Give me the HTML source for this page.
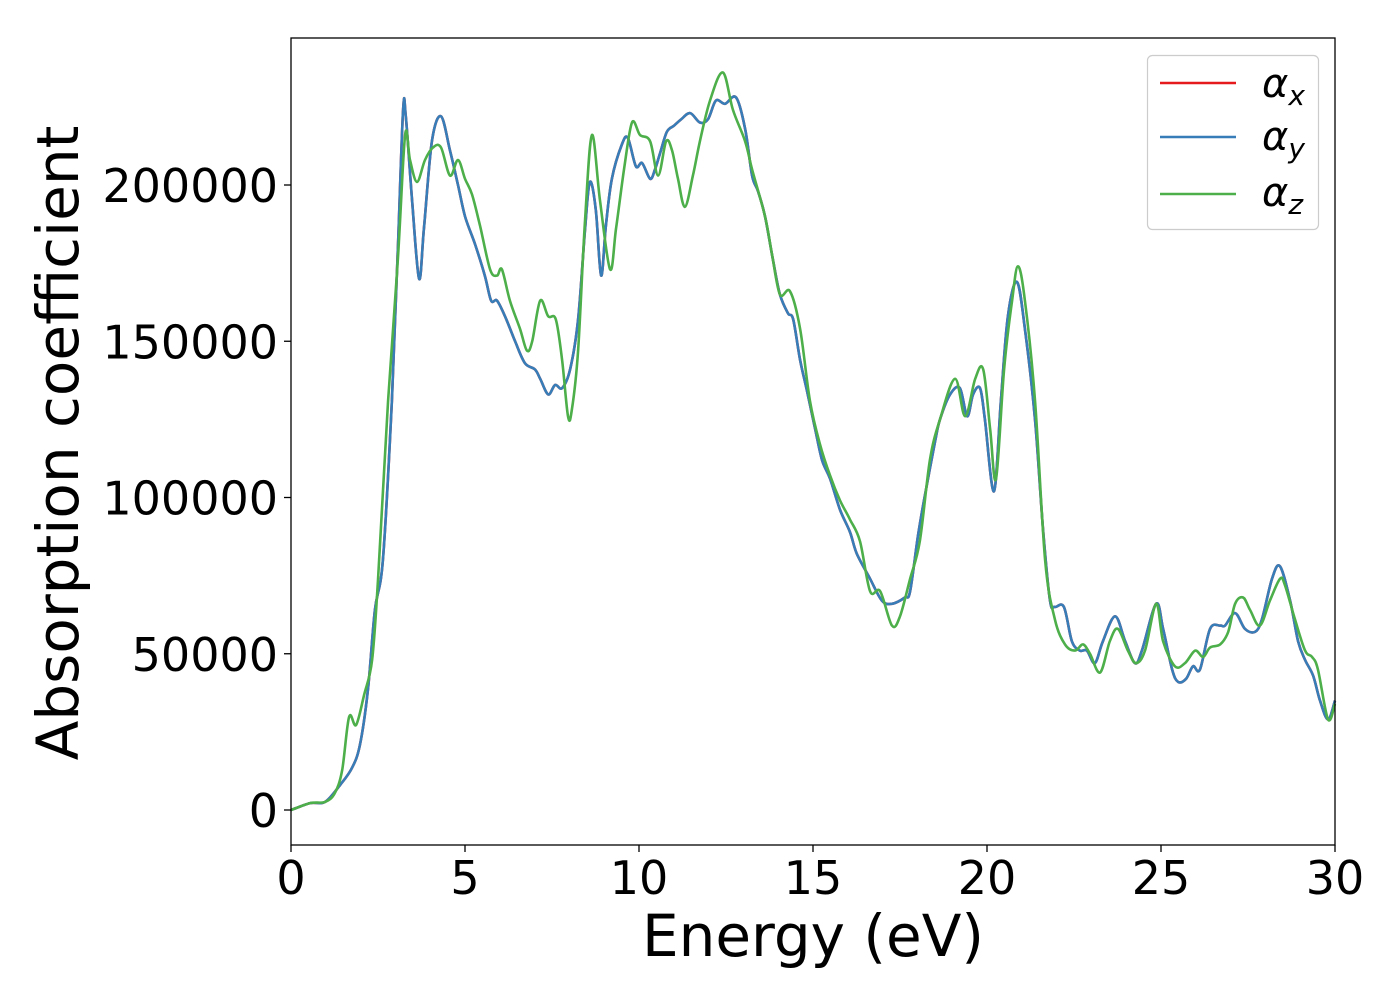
<!DOCTYPE html>
<html><head><meta charset="utf-8"><style>
html,body{margin:0;padding:0;background:#fff;}
svg text{font-family:"DejaVu Sans","Liberation Sans",sans-serif;fill:#000;}
</style></head><body>
<svg id="chart" width="1400" height="1000" xmlns="http://www.w3.org/2000/svg">
<rect x="291" y="38" width="1044" height="807" fill="#fff"/>
<g id="curves"></g>
<rect x="291" y="38" width="1044" height="807" fill="none" stroke="#000" stroke-width="1.3"/>
<g id="xticks"></g>
<g id="yticks"></g>
<text x="813" y="956" font-size="58" text-anchor="middle">Energy (eV)</text>
<text transform="translate(78,443) rotate(-90)" font-size="58" text-anchor="middle">Absorption coefficient</text>
<g>
<rect x="1147.5" y="55.5" width="171" height="174" rx="5" fill="#fff" stroke="#ccc" stroke-width="1.2"/>
<line x1="1160" y1="83" x2="1236" y2="83" stroke="#e41a1c" stroke-width="2.5"/>
<text x="1262" y="97" font-size="40" font-style="italic">α<tspan font-size="28" dy="8">x</tspan></text>
<line x1="1160" y1="137" x2="1236" y2="137" stroke="#377eb8" stroke-width="2.5"/>
<text x="1262" y="150" font-size="40" font-style="italic">α<tspan font-size="28" dy="8">y</tspan></text>
<line x1="1160" y1="194" x2="1236" y2="194" stroke="#4daf4a" stroke-width="2.5"/>
<text x="1262" y="206" font-size="40" font-style="italic">α<tspan font-size="28" dy="8">z</tspan></text>
</g>
</svg>
<script>
const xTicks=[0,5,10,15,20,25,30];
const yTicks=[0,50000,100000,150000,200000];
const energyXY=[0,0.55,0.98,1.41,1.75,1.98,2.21,2.41,2.64,2.90,3.07,3.22,3.30,3.48,3.68,3.82,4.05,4.31,4.57,4.80,5.00,5.29,5.57,5.75,5.92,6.15,6.44,6.72,7.01,7.16,7.39,7.59,7.79,8.02,8.25,8.45,8.59,8.76,8.91,9.05,9.22,9.51,9.68,9.91,10.09,10.32,10.46,10.60,10.80,11.01,11.21,11.47,11.75,11.98,12.21,12.47,12.79,13.05,13.25,13.42,13.62,13.85,14.05,14.28,14.43,14.63,14.83,15.06,15.26,15.49,15.78,16.06,16.26,16.64,16.98,17.27,17.64,17.79,18.02,18.22,18.51,18.65,18.94,19.22,19.43,19.60,19.80,19.94,20.20,20.40,20.60,20.86,21.09,21.38,21.61,21.81,21.95,22.21,22.44,22.67,22.87,23.10,23.33,23.68,23.97,24.25,24.45,24.86,25.06,25.32,25.49,25.72,25.92,26.12,26.41,26.70,26.84,27.13,27.41,27.70,27.90,28.19,28.42,28.71,28.94,29.14,29.37,29.57,29.80,30];
const alphaX=[0,2.2,2.6,8.0,13.4,20.8,38.4,64,80,131,179,224,222,195,170,186,214,222,211,200,190,181,171,163,163,158,150,143,141,138,133,136,135,141,157,186,201,192,171,187,202,213,215,206,207,202,205,210,217,219,221,223,220,221,227,226,228,218,203,198,190,176,165,159,157,144,134,122,112,106,96,89,82,74,67,66,68,70,88,101,118,125,133,135,126,133,135,125,102,131,158,169,154,125,90,67,65,65,54,51,51,47,54,62,54,47,51,66,58,45,41,42,46,45,58,59,59,63,58,57,61,74,78,67,54,48,43,35,29,35];
const alphaY=alphaX.slice();
const energyZ=[0,0.55,0.98,1.26,1.47,1.67,1.87,2.10,2.33,2.50,2.79,3.07,3.28,3.42,3.62,3.85,4.08,4.31,4.57,4.80,5.00,5.20,5.43,5.72,5.92,6.06,6.29,6.58,6.78,6.93,7.16,7.39,7.61,7.79,7.96,8.07,8.25,8.45,8.65,8.88,9.17,9.34,9.57,9.80,10.03,10.32,10.55,10.78,10.95,11.12,11.32,11.55,11.75,12.04,12.41,12.70,13.05,13.25,13.62,13.82,14.05,14.34,14.63,14.91,15.20,15.49,15.78,16.06,16.35,16.64,16.93,17.27,17.50,17.79,18.07,18.36,18.65,19.08,19.37,19.66,19.89,20.09,20.26,20.49,20.72,20.89,21.09,21.38,21.67,21.95,22.24,22.53,22.76,22.96,23.25,23.53,23.76,24.05,24.28,24.54,24.86,25.06,25.40,25.69,25.98,26.21,26.41,26.70,26.93,27.13,27.36,27.56,27.84,28.13,28.42,28.56,28.85,29.14,29.34,29.51,29.80,30];
const alphaZ=[0,2.2,2.6,5.4,12.8,29.8,27.2,36.8,48,73.6,131,176,216,208,201,208,212,212,203,208,202,197,187,173,171,173,163,154,147,150,163,158,157,144,126,128,147,189,216,195,173,186,205,220,216,214,203,214,211,202,193,203,214,227,236,224,214,205,190,178,165,166,154,131,117,107,99,93,86,70,70,59,62,74,86,112,125,138,126,138,141,122,106,141,163,174,163,131,80,61,53,51,53,50,44,54,58,51,47,51,66,54,46,47,51,49,52,53,57,66,68,64,59,67,74,72,61,51,49,45,29,34];

const NS='http://www.w3.org/2000/svg';
const X0=291,X1=1335,Y0=810,PXPER=0.003125;
function xs(e){return X0+(e/30)*(X1-X0);}
function ys(v){return Y0-v*PXPER;}
function pathFor(E,V){
  const p=E.map((e,i)=>[xs(e),ys(V[i]*1000)]);
  let d='M'+p[0][0].toFixed(1)+','+p[0][1].toFixed(1);
  for(let i=0;i<p.length-1;i++){
    const a=p[Math.max(0,i-1)],b=p[i],c=p[i+1],n=p[Math.min(p.length-1,i+2)];
    const c1=[b[0]+(c[0]-a[0])/6,b[1]+(c[1]-a[1])/6],c2=[c[0]-(n[0]-b[0])/6,c[1]-(n[1]-b[1])/6];
    d+='C'+c1[0].toFixed(1)+','+c1[1].toFixed(1)+' '+c2[0].toFixed(1)+','+c2[1].toFixed(1)+' '+c[0].toFixed(1)+','+c[1].toFixed(1);
  }
  return d;
}
const curves=document.getElementById('curves');
function addLine(E,V,color,name){
  const el=document.createElementNS(NS,'path');
  el.setAttribute('d',pathFor(E,V));
  el.setAttribute('fill','none');
  el.setAttribute('stroke',color);
  el.setAttribute('stroke-width','2.6');
  el.setAttribute('stroke-linejoin','round');
  
  
  curves.appendChild(el);
}
addLine(energyXY,alphaX,'#e41a1c','alpha-x-line');
addLine(energyXY,alphaY,'#377eb8','alpha-y-line');
addLine(energyZ,alphaZ,'#4daf4a','alpha-z-line');

const xg=document.getElementById('xticks');
xTicks.forEach(t=>{
  const l=document.createElementNS(NS,'line');
  l.setAttribute('x1',xs(t));l.setAttribute('x2',xs(t));l.setAttribute('y1',845);l.setAttribute('y2',852);
  l.setAttribute('stroke','#000');l.setAttribute('stroke-width','1.3');
  
  
  xg.appendChild(l);
  const tx=document.createElementNS(NS,'text');
  tx.setAttribute('x',xs(t));tx.setAttribute('y',894);tx.setAttribute('font-size','46');tx.setAttribute('text-anchor','middle');
  tx.textContent=String(t);
  
  
  xg.appendChild(tx);
});
const yg=document.getElementById('yticks');
yTicks.forEach(t=>{
  const l=document.createElementNS(NS,'line');
  l.setAttribute('x1',284);l.setAttribute('x2',291);l.setAttribute('y1',ys(t));l.setAttribute('y2',ys(t));
  l.setAttribute('stroke','#000');l.setAttribute('stroke-width','1.3');
  
  
  yg.appendChild(l);
  const tx=document.createElementNS(NS,'text');
  tx.setAttribute('x',278);tx.setAttribute('y',ys(t)+17);tx.setAttribute('font-size','46');tx.setAttribute('text-anchor','end');
  tx.textContent=String(t);
  
  
  yg.appendChild(tx);
});
</script>
</body></html>
